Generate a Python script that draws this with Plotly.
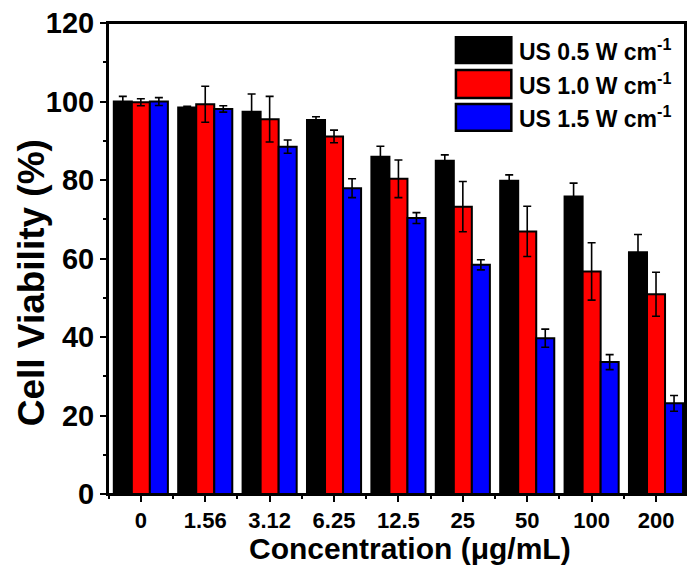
import plotly.graph_objects as go

categories = ["0", "1.56", "3.12", "6.25", "12.5", "25", "50", "100", "200"]
series_names = ["US 0.5 W cm<sup>-1</sup>", "US 1.0 W cm<sup>-1</sup>", "US 1.5 W cm<sup>-1</sup>"]
colors = ["#000000", "#ff0000", "#0000ff"]

v_05 = [100.0, 98.5, 97.4, 95.3, 85.9, 84.9, 79.8, 75.8, 61.6]
e_05 = [1.3, 0.3, 4.5, 0.8, 2.7, 1.5, 1.5, 3.4, 4.5]
v_10 = [99.8, 99.3, 95.5, 91.1, 80.3, 73.2, 66.9, 56.7, 50.9]
e_10 = [0.9, 4.6, 5.8, 1.6, 4.8, 6.4, 6.4, 7.3, 5.6]
v_15 = [100.0, 98.1, 88.5, 77.9, 70.3, 58.4, 39.7, 33.6, 23.1]
e_15 = [1.0, 0.8, 1.7, 2.4, 1.4, 1.3, 2.3, 1.9, 2.0]

values = [v_05, v_10, v_15]
errors = [e_05, e_10, e_15]
xpos = list(range(len(categories)))

FONT = "Liberation Sans, Arial, sans-serif"

fig = go.Figure()
for name, col, v, e in zip(series_names, colors, values, errors):
    fig.add_trace(go.Bar(
        x=xpos, y=v, name=name,
        marker=dict(color=col, line=dict(color="black", width=2)),
        error_y=dict(type="data", array=e, visible=True, color="black",
                     thickness=1.6, width=4),
        showlegend=False,
    ))

# frame around the plot area
fig.add_shape(type="rect", xref="paper", yref="paper", x0=0, x1=1, y0=0, y1=1,
              line=dict(color="black", width=2), layer="above")

# manual legend (large swatches like the reference)
leg_rows = [(0.970, 0.915), (0.900, 0.841), (0.828, 0.771)]
for (y1, y0), name, col in zip(leg_rows, series_names, colors):
    fig.add_shape(type="rect", xref="paper", yref="paper",
                  x0=0.603, x1=0.699, y0=y0, y1=y1,
                  fillcolor=col, line=dict(color="black", width=2.5))
    fig.add_annotation(xref="paper", yref="paper", x=0.708, y=(y0 + y1) / 2,
                       text=name, showarrow=False,
                       xanchor="left", yanchor="middle",
                       font=dict(family=FONT, size=23, color="black", weight="bold"))

# axis titles
fig.add_annotation(xref="paper", yref="paper", x=(411 - 108) / 579, y=(494 - 548) / 471,
                   text="Concentration (\u03bcg/mL)", showarrow=False,
                   xanchor="center", yanchor="middle",
                   font=dict(family=FONT, size=30, color="black", weight="bold"))
fig.add_annotation(xref="paper", yref="paper", x=(31 - 108) / 579, y=(494 - 283) / 471,
                   text="Cell Viability (%)", showarrow=False, textangle=-90,
                   xanchor="center", yanchor="middle",
                   font=dict(family=FONT, size=37, color="black", weight="bold"))

fig.update_layout(
    width=691, height=570,
    margin=dict(l=108, r=4, t=23, b=76),
    paper_bgcolor="white", plot_bgcolor="white",
    barmode="group", bargap=0.16, bargroupgap=0,
    font=dict(family=FONT, color="black"),
)
fig.update_xaxes(
    range=[-0.51, 8.45],
    tickmode="array", tickvals=xpos, ticktext=categories,
    tickfont=dict(family=FONT, size=22, color="black", weight="bold"),
    ticks="outside", ticklen=6, tickwidth=2, tickcolor="black",
    minor=dict(tick0=0.5, dtick=1, ticks="outside", ticklen=3, tickwidth=2, tickcolor="black"),
    showline=True, linewidth=2, linecolor="black", mirror=True,
    showgrid=False, zeroline=False,
)
fig.update_yaxes(
    range=[0, 120], dtick=20, tick0=0,
    tickfont=dict(family=FONT, size=29, color="black", weight="bold"),
    ticks="outside", ticklen=6, tickwidth=2, tickcolor="black",
    minor=dict(dtick=10, ticks="outside", ticklen=3, tickwidth=2, tickcolor="black"),
    showline=True, linewidth=2, linecolor="black", mirror=True,
    showgrid=False, zeroline=False,
)

fig.write_html("out.html")
